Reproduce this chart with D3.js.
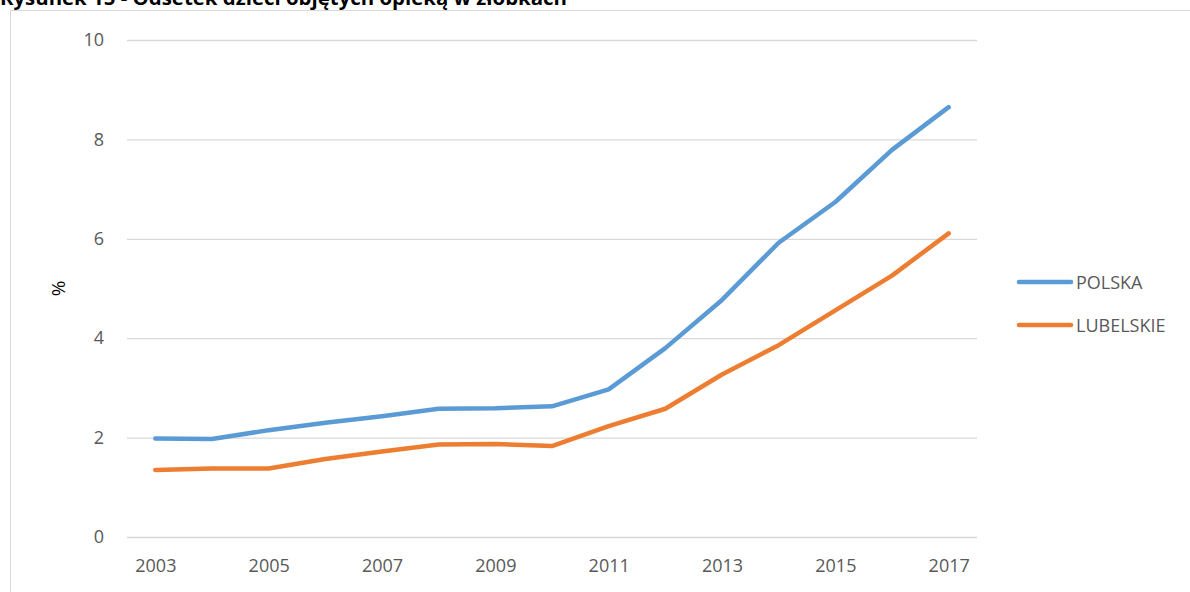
<!DOCTYPE html>
<html>
<head>
<meta charset="utf-8">
<script src="https://cdn.jsdelivr.net/npm/d3@7"></script>
<style>
    body { margin: 0; background: #fff; }
    .chart text { font-family: 'Open Sans', sans-serif; }
</style>
</head>
<body>
<div class="chart"></div>
<script>
// Data
const years = [2003, 2004, 2005, 2006, 2007, 2008, 2009, 2010, 2011, 2012, 2013, 2014, 2015, 2016, 2017];
const polska = [1.98, 1.97, 2.15, 2.3, 2.43, 2.58, 2.59, 2.63, 2.97, 3.8, 4.77, 5.92, 6.74, 7.79, 8.65];
const lubelskie = [1.35, 1.38, 1.38, 1.57, 1.72, 1.86, 1.87, 1.83, 2.23, 2.58, 3.27, 3.86, 4.56, 5.26, 6.11];
const seriesNames = ['POLSKA', 'LUBELSKIE'];
const seriesColors = ['#5b9bd5', '#ed7d31'];
const yTicks = [0, 2, 4, 6, 8, 10];
const xTickLabels = [2003, 2005, 2007, 2009, 2011, 2013, 2015, 2017];
const titleText = 'Rysunek 15 - Odsetek dzieci objętych opieką w żłobkach';

const series = [polska, lubelskie].map((values, i) => ({
    name: seriesNames[i],
    color: seriesColors[i],
    values: values.map((v, j) => ({ year: years[j], value: v }))
}));

// Dimensions
const dimensions = {
    width: 1190,
    height: 592,
    plotLeft: 127,
    plotRight: 977,
    plotTop: 40,
    plotBottom: 537
};

const svg = d3.select('.chart')
    .append('svg')
    .attr('width', dimensions.width)
    .attr('height', dimensions.height);

// Frame
svg.append('rect')
    .attr('x', 10.5)
    .attr('y', 10.5)
    .attr('width', dimensions.width)
    .attr('height', dimensions.height)
    .attr('fill', 'none')
    .attr('stroke', '#d9d9d9');

// Title (its upper half sits above the page edge, as in the source)
svg.append('text')
    .attr('x', 0)
    .attr('y', 5)
    .attr('font-weight', 'bold')
    .attr('font-size', 20)
    .attr('textLength', 567)
    .attr('lengthAdjust', 'spacingAndGlyphs')
    .attr('fill', '#000')
    .text(titleText);

// Scales
const xScale = d3.scalePoint()
    .domain(years)
    .range([dimensions.plotLeft, dimensions.plotRight])
    .padding(0.5);

const yScale = d3.scaleLinear()
    .domain([0, 10])
    .range([dimensions.plotBottom, dimensions.plotTop]);

// Grid + y axis
const yAxis = d3.axisLeft(yScale)
    .tickValues(yTicks)
    .tickSize(-(dimensions.plotRight - dimensions.plotLeft))
    .tickPadding(23)
    .tickFormat(d3.format('d'));

const yAxisGroup = svg.append('g')
    .attr('transform', `translate(${dimensions.plotLeft}, 0)`)
    .call(yAxis);
yAxisGroup.select('.domain').remove();
yAxisGroup.selectAll('line')
    .attr('stroke', '#d9d9d9')
    .attr('stroke-width', 1.3);
yAxisGroup.selectAll('text')
    .attr('font-size', 18)
    .attr('fill', '#595959');

// x axis
const xAxis = d3.axisBottom(xScale)
    .tickValues(xTickLabels)
    .tickSize(0)
    .tickPadding(22);

const xAxisGroup = svg.append('g')
    .attr('transform', `translate(0, ${dimensions.plotBottom})`)
    .call(xAxis);
xAxisGroup.select('.domain').remove();
xAxisGroup.selectAll('text')
    .attr('font-size', 18)
    .attr('fill', '#595959');

// y label
svg.append('text')
    .attr('transform', `translate(65, ${(dimensions.plotTop + dimensions.plotBottom) / 2}) rotate(-90)`)
    .attr('text-anchor', 'middle')
    .attr('font-size', 19)
    .attr('fill', '#000')
    .text('%');

// Lines
const line = d3.line()
    .x(d => xScale(d.year))
    .y(d => yScale(d.value));

svg.selectAll('.series')
    .data(series)
    .join('path')
    .attr('class', 'series')
    .attr('d', d => line(d.values))
    .attr('fill', 'none')
    .attr('stroke', d => d.color)
    .attr('stroke-width', 4.5)
    .attr('stroke-linecap', 'round')
    .attr('stroke-linejoin', 'round');

// Legend
const legendGroup = svg.append('g')
    .attr('transform', 'translate(1019, 282)');

legendGroup.selectAll('line')
    .data(series)
    .join('line')
    .attr('x1', 0)
    .attr('x2', 52)
    .attr('y1', (d, i) => i * 43)
    .attr('y2', (d, i) => i * 43)
    .attr('stroke', d => d.color)
    .attr('stroke-width', 4.5)
    .attr('stroke-linecap', 'round');

legendGroup.selectAll('text')
    .data(series)
    .join('text')
    .attr('x', 57)
    .attr('y', (d, i) => i * 43 + 7)
    .attr('font-size', 18)
    .attr('fill', '#595959')
    .text(d => d.name);
</script>
</body>
</html>
